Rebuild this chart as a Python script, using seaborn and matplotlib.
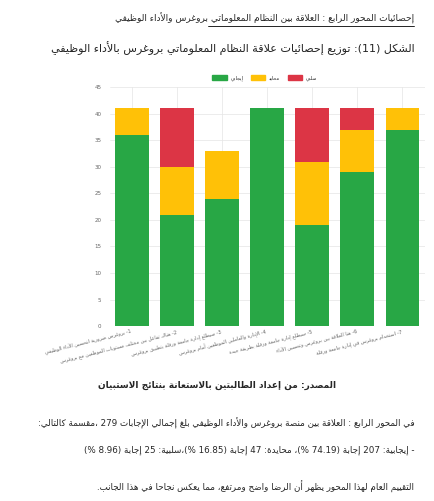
import matplotlib
matplotlib.use("Agg")
import matplotlib.pyplot as plt
import seaborn as sns
import pandas as pd

categories = ["1- بروغرس ضرورية لتحسين الأداء الوظيفي", "2- هناك تفاعل بين مختلف مستويات الموظفين مع بروغرس",
              "3- سيطلع إدارة جامعة ورقلة بتطبيق بروغرس", "4- الإدارة والعاملين الموظفين أمام بروغرس",
              "5- سيطلع إدارة جامعة ورقلة بطريقة جيدة", "6- هنا العلاقة بين بروغرس وتحسين الأداء",
              "7- استخدام بروغرس في إدارة جامعة ورقلة"]
positive = [36, 21, 24, 41, 19, 29, 37]
neutral = [5, 9, 9, 0, 12, 8, 4]
negative = [0, 11, 0, 0, 10, 4, 0]
series_names = ["إيجابي", "محايد", "سلبي"]
colors = ["#28a745", "#ffc107", "#dc3545"]
yticks = list(range(0, 50, 5))

_letters = "ءآأؤإئابةتثجحخدذرزسشصضطظعغفقكلمنهوىي"
_nforms = [1,2,2,2,2,4,2,4,2,4,4,4,4,4,2,2,2,2,4,4,4,4,4,4,4,4,4,4,4,4,4,4,4,2,2,4]
FORMS = {}
cp = 0xFE80
for ch, n in zip(_letters, _nforms):
    FORMS[ch] = [chr(cp + i) for i in range(n)]
    cp += n
LAMALEF = {"آ": "\uFEF5", "أ": "\uFEF7", "إ": "\uFEF9", "ا": "\uFEFB"}

def shape(s):
    chars = list(s)
    i = 0
    def joins_next(c):
        return c in FORMS and len(FORMS[c]) == 4
    res = []
    n = len(chars)
    while i < n:
        c = chars[i]
        if c not in FORMS:
            res.append(c); i += 1; continue
        prev = chars[i-1] if i > 0 else ""
        pj = joins_next(prev) and res and not res[-1] in "\uFEF5\uFEF6\uFEF7\uFEF8\uFEF9\uFEFA\uFEFB\uFEFC"
        if c == "ل" and i + 1 < n and chars[i+1] in LAMALEF:
            base = ord(LAMALEF[chars[i+1]])
            res.append(chr(base + (1 if pj else 0))); i += 2; continue
        nxt = chars[i+1] if i + 1 < n else ""
        nj = nxt in FORMS and len(FORMS[c]) == 4
        f = FORMS[c]
        if len(f) == 1:
            res.append(f[0])
        elif pj and nj:
            res.append(f[3])
        elif pj:
            res.append(f[1])
        elif nj:
            res.append(f[2])
        else:
            res.append(f[0])
        i += 1
    return "".join(res)

MIR = {"(": ")", ")": "(", "[": "]", "]": "["}
def ar(s):
    s = shape(s)
    runs = []
    for ch in s:
        ltr = ch.isascii() and (ch.isalnum() or ch in ".,%")
        if runs and runs[-1][0] == ltr:
            runs[-1][1].append(ch)
        else:
            runs.append([ltr, [ch]])
    out = []
    for ltr, chs in reversed(runs):
        if ltr:
            out.append("".join(chs))
        else:
            out.append("".join(MIR.get(c, c) for c in reversed(chs)))
    return "".join(out)

sns.set_theme(style="white")
plt.rcParams["font.family"] = ["DejaVu Sans"]

df = pd.DataFrame({"cat": categories, "pos": positive, "neu": neutral, "neg": negative})
df["pn"] = df["pos"] + df["neu"]
df["all"] = df["pn"] + df["neg"]

fig = plt.figure(figsize=(4.34, 5.01), dpi=100)
ax = fig.add_axes([0.253, 0.349, 0.726, 0.477])
for col, c in [("all", colors[2]), ("pn", colors[1]), ("pos", colors[0])]:
    sns.barplot(data=df, x="cat", y=col, color=c, ax=ax, width=0.75, saturation=1, linewidth=0)
ax.set_ylim(0, 45)
ax.set_yticks(yticks)
ax.tick_params(axis="y", labelsize=4, colors="#666666", length=0, pad=6)
ax.set_xticks(range(len(categories)))
ax.set_xticklabels([ar(c) for c in categories], rotation=14, ha="right", fontsize=3.5, color="#666666")
ax.tick_params(axis="x", length=0, pad=2)
ax.set_xlabel(""); ax.set_ylabel("")
ax.grid(True, color="#e5e5e5", linewidth=0.5)
ax.set_axisbelow(True)
for sp in ax.spines.values():
    sp.set_visible(False)
ax.axhline(0, color="#cccccc", lw=0.5)

from matplotlib.patches import Patch
handles = [Patch(color=colors[i], label=ar(series_names[i])) for i in range(3)]
fig.legend(handles=handles, loc="center", bbox_to_anchor=(0.61, 1 - 78/501), ncol=3, fontsize=3.5,
           frameon=False, handlelength=3, handleheight=1, columnspacing=1.5)

fig.text(0.955, 1 - 18/501, ar("إحصائيات المحور الرابع : العلاقة بين النظام المعلوماتي بروغرس والأداء الوظيفي"),
         ha="right", va="center", fontsize=6.5)
fig.add_artist(plt.Line2D([0.48, 0.955], [1 - 26/501] * 2, color="black", lw=0.6))
fig.text(0.955, 1 - 48/501, ar("الشكل (11): توزيع إحصائيات علاقة النظام المعلوماتي بروغرس بالأداء الوظيفي"),
         ha="right", va="center", fontsize=8)
fig.text(0.5, 1 - 385/501, ar("المصدر: من إعداد الطالبتين بالاستعانة بنتائج الاستبيان"),
         ha="center", va="center", fontsize=6.5, weight="bold")
fig.text(0.955, 1 - 423/501, ar("في المحور الرابع : العلاقة بين منصة بروغرس والأداء الوظيفي بلغ إجمالي الإجابات 279 ،مقسمة كالتالي:"),
         ha="right", va="center", fontsize=6.3)
fig.text(0.955, 1 - 450/501, ar("- إيجابية: 207 إجابة (74.19 %)، محايدة: 47 إجابة (16.85 %)،سلبية: 25 إجابة (8.96 %)"),
         ha="right", va="center", fontsize=6.3)
fig.text(0.955, 1 - 487/501, ar("التقييم العام لهذا المحور يظهر أن الرضا واضح ومرتفع، مما يعكس نجاحا في هذا الجانب."),
         ha="right", va="center", fontsize=6.3)
fig.savefig("out.png", dpi=100, facecolor="white")
